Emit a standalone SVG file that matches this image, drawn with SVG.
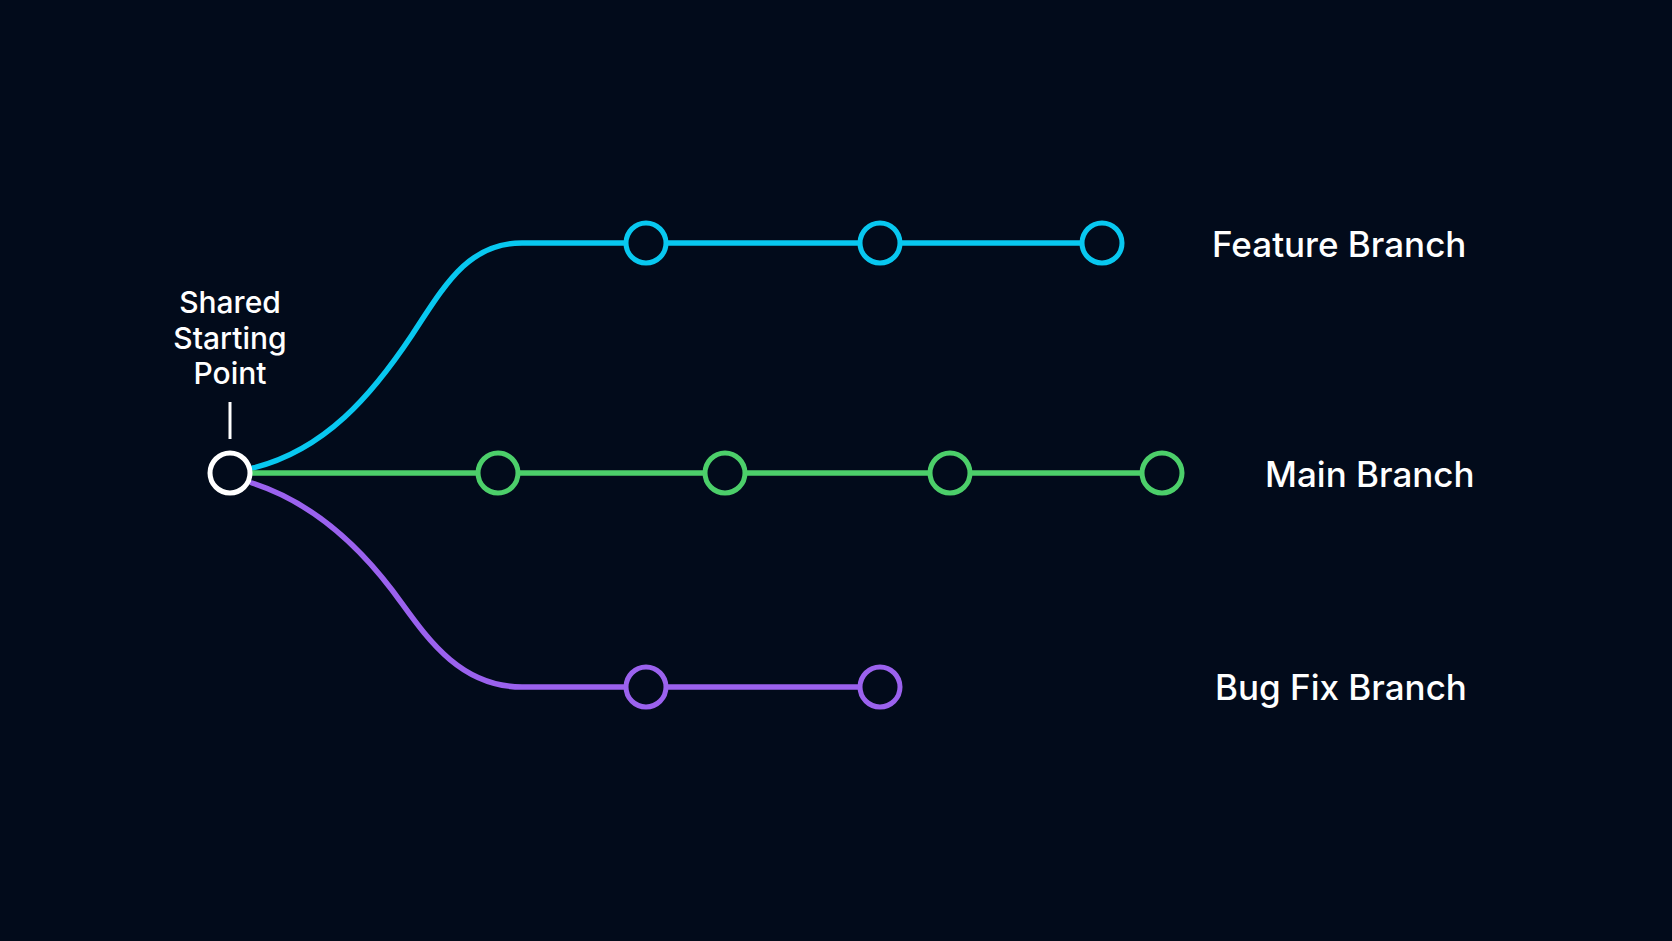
<svg xmlns="http://www.w3.org/2000/svg" width="1672" height="941" viewBox="0 0 1672 941">
<style>
.lbl{font-family:Inter,"Noto Sans","Liberation Sans",sans-serif;font-weight:500;fill:#ffffff}
.big{font-size:35px}
.small{font-size:30px;text-anchor:middle}
.ln{fill:none;stroke-width:5.5;stroke-linecap:round}
.c{fill:#020b1b;stroke-width:5}
.cy{stroke:#08c8f0}
.gr{stroke:#4ccf6a}
.pu{stroke:#9b62ee}
</style>
<rect x="0" y="0" width="1672" height="941" fill="#020b1b"/>
<g id="connectors">
<path class="ln cy" d="M253,468 C325,450 372,395 412,335 C445,285 468,243 522,243 L1102,243"/>
<path class="ln gr" d="M252,473 L1162,473"/>
<path class="ln pu" d="M252,483 C305,500 350,535 392,590 C422,630 455,687 522,687 L880,687"/>
<line x1="230" y1="402" x2="230" y2="439" stroke="#ffffff" stroke-width="3"/>
</g>
<g id="start">
<circle class="c" cx="230" cy="473" r="20" stroke="#ffffff"/>
<text class="lbl small" x="230" y="313">Shared</text>
<text class="lbl small" x="230" y="349">Starting</text>
<text class="lbl small" x="230" y="384">Point</text>
</g>
<g id="feature">
<circle class="c cy" cx="646" cy="243" r="20"/>
<circle class="c cy" cx="880" cy="243" r="20"/>
<circle class="c cy" cx="1102" cy="243" r="20"/>
<text class="lbl big" x="1212" y="257">Feature Branch</text>
</g>
<g id="main">
<circle class="c gr" cx="498" cy="473" r="20"/>
<circle class="c gr" cx="725" cy="473" r="20"/>
<circle class="c gr" cx="950" cy="473" r="20"/>
<circle class="c gr" cx="1162" cy="473" r="20"/>
<text class="lbl big" x="1265" y="487">Main Branch</text>
</g>
<g id="bugfix">
<circle class="c pu" cx="646" cy="687" r="20"/>
<circle class="c pu" cx="880" cy="687" r="20"/>
<text class="lbl big" x="1215" y="700">Bug Fix Branch</text>
</g>
</svg>
